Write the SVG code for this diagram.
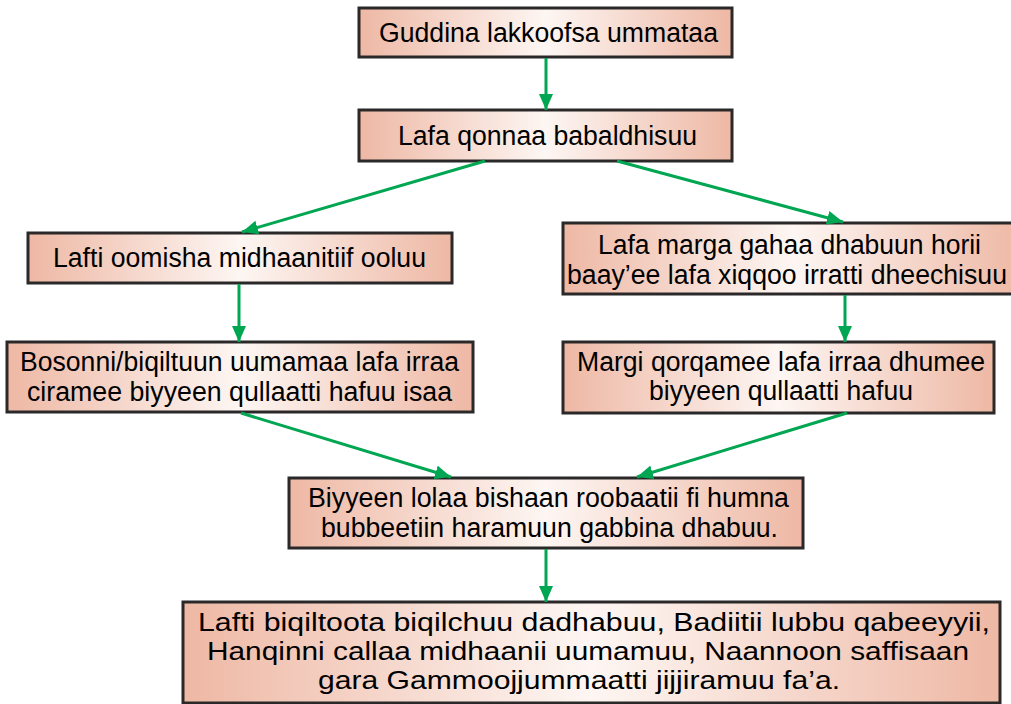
<svg xmlns="http://www.w3.org/2000/svg" width="1011" height="704" viewBox="0 0 1011 704">
<defs>
<linearGradient id="bg" x1="0" y1="0" x2="1" y2="0">
<stop offset="0" stop-color="#eeb8a4"/>
<stop offset="0.5" stop-color="#fdf6f3"/>
<stop offset="1" stop-color="#eeb8a4"/>
</linearGradient>
<marker id="ah" markerUnits="userSpaceOnUse" markerWidth="17" markerHeight="14" refX="16" refY="7" orient="auto" viewBox="0 0 17 14">
<path d="M0,0 L16,7 L0,14 Z" fill="#00a651"/>
</marker>
</defs>
<style>
.box{fill:url(#bg);stroke:#2a2828;stroke-width:3}
.t{font-family:"Liberation Sans",Arial,Helvetica,sans-serif;font-size:27px;fill:#000;text-anchor:middle}
.s{font-size:25px}
.c line{stroke:#00a651;stroke-width:3;marker-end:url(#ah)}
</style>
<rect width="1011" height="704" fill="#fff"/>
<g id="n1"><rect class="box" x="359" y="8" width="373" height="49"/>
<text class="t" x="548.5" y="42" textLength="339" lengthAdjust="spacingAndGlyphs">Guddina lakkoofsa ummataa</text></g>
<g id="n2"><rect class="box" x="359" y="110" width="373" height="51"/>
<text class="t" x="547.5" y="145" textLength="299" lengthAdjust="spacingAndGlyphs">Lafa qonnaa babaldhisuu</text></g>
<g id="n3"><rect class="box" x="28" y="233" width="424" height="50"/>
<text class="t" x="239.5" y="267" textLength="373" lengthAdjust="spacingAndGlyphs">Lafti oomisha midhaanitiif ooluu</text></g>
<g id="n4"><rect class="box" x="563" y="223" width="460" height="71"/>
<text class="t" x="789.5" y="254" textLength="383" lengthAdjust="spacingAndGlyphs">Lafa marga gahaa dhabuun horii</text>
<text class="t" x="787" y="284" textLength="440" lengthAdjust="spacingAndGlyphs">baay’ee lafa xiqqoo irratti dheechisuu</text></g>
<g id="n5"><rect class="box" x="7" y="342" width="466" height="70"/>
<text class="t" x="239.5" y="371" textLength="439" lengthAdjust="spacingAndGlyphs">Bosonni/biqiltuun uumamaa lafa irraa</text>
<text class="t" x="239.5" y="401" textLength="425" lengthAdjust="spacingAndGlyphs">ciramee biyyeen qullaatti hafuu isaa</text></g>
<g id="n6"><rect class="box" x="563" y="342" width="431" height="71"/>
<text class="t" x="781" y="371" textLength="408" lengthAdjust="spacingAndGlyphs">Margi qorqamee lafa irraa dhumee</text>
<text class="t" x="781" y="400" textLength="264" lengthAdjust="spacingAndGlyphs">biyyeen qullaatti hafuu</text></g>
<g id="n7"><rect class="box" x="289" y="478" width="514" height="70"/>
<text class="t" x="548.5" y="507" textLength="481" lengthAdjust="spacingAndGlyphs">Biyyeen lolaa bishaan roobaatii fi humna</text>
<text class="t" x="549.5" y="537" textLength="457" lengthAdjust="spacingAndGlyphs">bubbeetiin haramuun gabbina dhabuu.</text></g>
<g id="n8"><rect class="box" x="183" y="602" width="817" height="101"/>
<text class="t s" x="594" y="631" textLength="792" lengthAdjust="spacingAndGlyphs">Lafti biqiltoota biqilchuu dadhabuu, Badiitii lubbu qabeeyyii,</text>
<text class="t s" x="588" y="660" textLength="762" lengthAdjust="spacingAndGlyphs">Hanqinni callaa midhaanii uumamuu, Naannoon saffisaan</text>
<text class="t s" x="579" y="689" textLength="522" lengthAdjust="spacingAndGlyphs">gara Gammoojjummaatti jijjiramuu fa’a.</text></g>
<g id="connectors" class="c">
<line x1="546" y1="58" x2="546" y2="110"/>
<line x1="485" y1="161" x2="242" y2="232"/>
<line x1="617" y1="161" x2="843" y2="222"/>
<line x1="239" y1="284" x2="239" y2="342"/>
<line x1="845" y1="295" x2="845" y2="342"/>
<line x1="241" y1="413" x2="451" y2="477"/>
<line x1="847" y1="413" x2="637" y2="477"/>
<line x1="546" y1="549" x2="546" y2="602"/>
</g>
</svg>
